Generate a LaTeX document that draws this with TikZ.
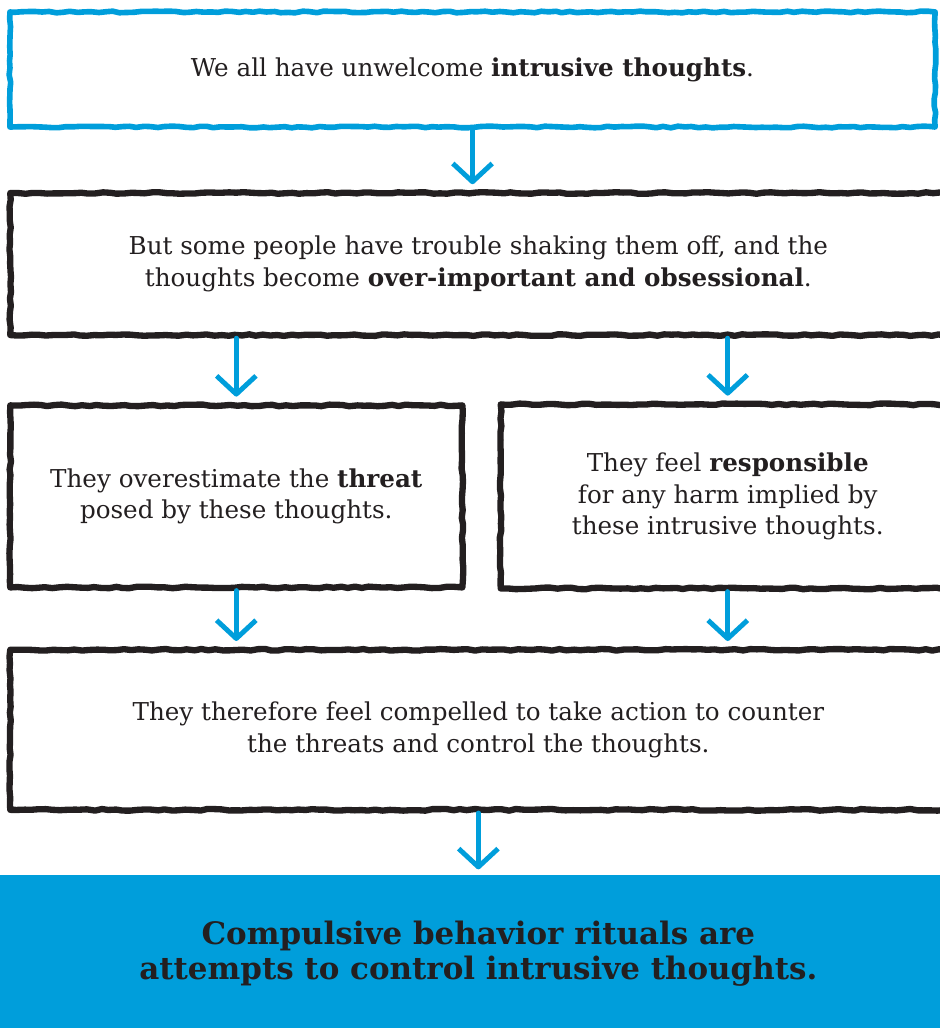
\documentclass[tikz,border=0pt]{standalone}
\usepackage{fontspec}
\setmainfont{DejaVu Serif}
\usetikzlibrary{arrows.meta, positioning, decorations.pathmorphing}

\definecolor{sketchblue}{RGB}{0,158,219}
\definecolor{inkgray}{RGB}{35,31,32}

\begin{document}
\begin{tikzpicture}[
        x=0.025cm, y=-0.025cm,
        node distance=1.5cm,
        sketch/.style={rectangle, draw=inkgray, line width=4.5pt, line join=round, decorate, decoration={random steps, segment length=5pt, amplitude=0.6pt}, align=center, text=inkgray, font=\fontsize{17.5}{22.7}\selectfont},
        firstbox/.style={sketch, draw=sketchblue, line width=4pt},
        result/.style={rectangle, fill=sketchblue, align=center, text=inkgray, minimum width=24cm, minimum height=3.9cm, font=\fontsize{22}{25}\selectfont\bfseries},
        link/.style={draw=sketchblue, line width=3.5pt, line cap=round, shorten >=4pt, -{Straight Barb[length=13pt, width=28pt, line join=round]}}
    ]
        \useasboundingbox (0,0) rectangle (940,1028);
        \clip (0,0) rectangle (940,1028);

        \node[firstbox, minimum width=23.125cm, minimum height=2.875cm] (intrusive) at (472.5,69.5) {We all have unwelcome \textbf{intrusive thoughts}.};
        \node[sketch, minimum width=23.4cm, minimum height=3.55cm, below right=1.5cm and 0cm of intrusive.south west] (obsess) {But some people have trouble shaking them off, and the\\thoughts become \textbf{over-important and obsessional}.};
        \node[sketch, minimum width=11.3cm, minimum height=4.55cm, below right=1.6cm and 0cm of obsess.south west] (threat) {They overestimate the \textbf{threat}\\posed by these thoughts.};
        \node[sketch, minimum width=11.35cm, minimum height=4.6cm, right=0.8cm of threat] (resp) {They feel \textbf{responsible}\\for any harm implied by\\these intrusive thoughts.};
        \node[sketch, minimum width=23.4cm, minimum height=4cm, below right=1.4cm and 0cm of threat.south west] (compel) {They therefore feel compelled to take action to counter\\the threats and control the thoughts.};
        \node[result, below=1.55cm of compel] (ritual) {Compulsive behavior rituals are\\attempts to control intrusive thoughts.};

        \draw[link] (intrusive) -- (intrusive |- obsess.north);
        \draw[link] (obsess.south -| threat) -- (threat);
        \draw[link] (obsess.south -| resp) -- (resp);
        \draw[link] (threat) -- (threat |- compel.north);
        \draw[link] (resp) -- (resp |- compel.north);
        \draw[link] (compel) -- (compel |- ritual.north);

    \end{tikzpicture}
\end{document}
